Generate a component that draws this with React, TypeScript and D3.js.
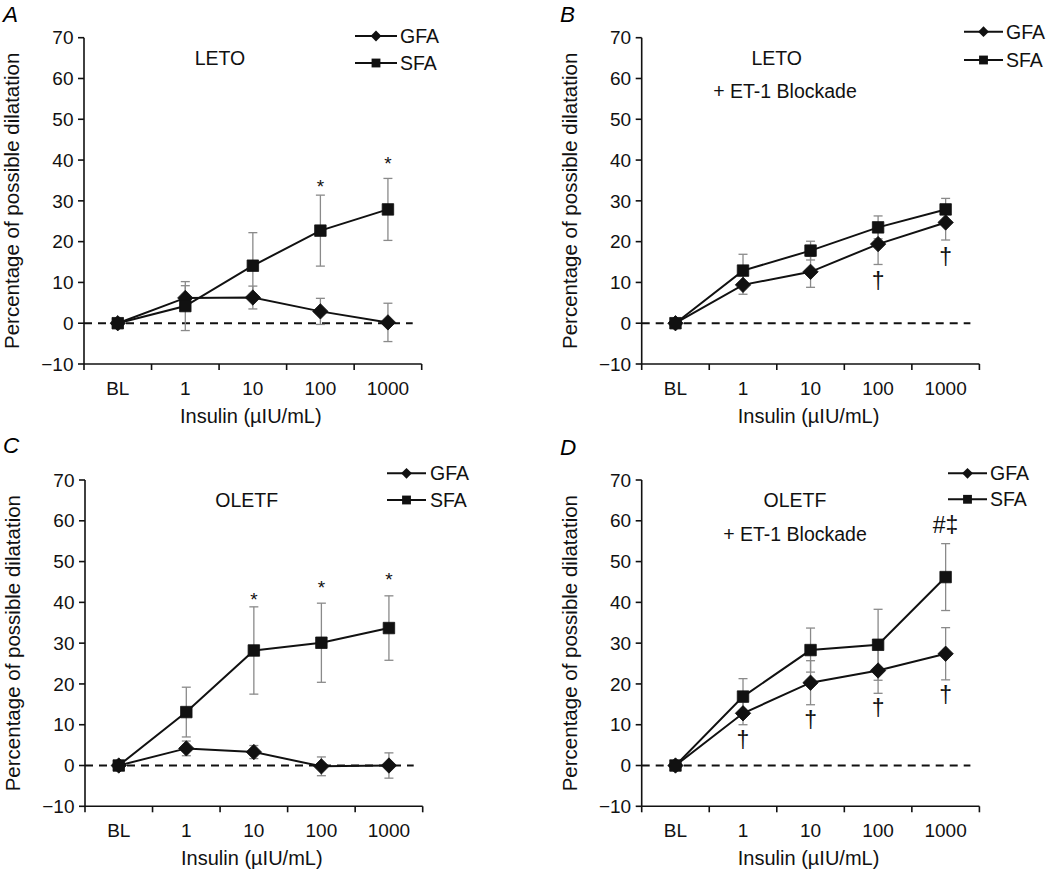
import React from "react";
import * as d3 from "d3";

const categories = ["BL", "1", "10", "100", "1000"];
const yTicks = [-10, 0, 10, 20, 30, 40, 50, 60, 70];
const seriesNames = ["GFA", "SFA"];

// Panel A – LETO
const gfaA = [0, 6.2, 6.3, 2.9, 0.2];
const gfaErrA = [0, 3.0, 2.8, 3.2, 4.7];
const sfaA = [0, 4.2, 14.1, 22.7, 27.9];
const sfaErrA = [0, 6.0, 8.1, 8.7, 7.6];
// Panel B – LETO + ET-1 Blockade
const gfaB = [0, 9.4, 12.6, 19.4, 24.7];
const gfaErrB = [0, 2.3, 3.8, 5.0, 4.3];
const sfaB = [0, 12.9, 17.8, 23.5, 27.9];
const sfaErrB = [0, 4.0, 2.3, 2.8, 2.7];
// Panel C – OLETF
const gfaC = [0, 4.2, 3.3, -0.2, 0];
const gfaErrC = [0, 1.8, 1.6, 2.3, 3.1];
const sfaC = [0, 13.1, 28.2, 30.1, 33.7];
const sfaErrC = [0, 6.1, 10.7, 9.7, 7.9];
// Panel D – OLETF + ET-1 Blockade
const gfaD = [0, 12.8, 20.3, 23.3, 27.4];
const gfaErrD = [0, 2.8, 5.4, 5.6, 6.4];
const sfaD = [0, 16.9, 28.3, 29.6, 46.2];
const sfaErrD = [0, 4.4, 5.4, 8.7, 8.2];

// annotations: category, value (y position in data units), symbol
const notesA = [
  { cat: "100", v: 34.6, t: "*" },
  { cat: "1000", v: 40.3, t: "*" },
];
const notesB = [
  { cat: "100", v: 9.95, t: "†" },
  { cat: "1000", v: 15.8, t: "†" },
];
const notesC = [
  { cat: "10", v: 41.8, t: "*" },
  { cat: "100", v: 44.7, t: "*" },
  { cat: "1000", v: 46.7, t: "*" },
];
const notesD = [
  { cat: "1", v: 5.9, t: "†" },
  { cat: "10", v: 10.8, t: "†" },
  { cat: "100", v: 13.8, t: "†" },
  { cat: "1000", v: 16.9, t: "†" },
  { cat: "1000", v: 58.6, t: "#‡" },
];

const FONT = "'Liberation Sans', Arial, Helvetica, sans-serif";
const PW = 337.7;
const PH = 326.3;

const panels = [
  {
    letter: "A", left: 84, top: 37.7, labelX: 3, labelY: 21.5,
    gfa: gfaA, gfaErr: gfaErrA, sfa: sfaA, sfaErr: sfaErrA, notes: notesA,
    legend: { x1: 355, x2: 397, tx: 400, y1: 36, y2: 63 },
    titles: [{ text: "LETO", dx: 136, v: 65 }],
  },
  {
    letter: "B", left: 641.7, top: 37.7, labelX: 560, labelY: 21.5,
    gfa: gfaB, gfaErr: gfaErrB, sfa: sfaB, sfaErr: sfaErrB, notes: notesB,
    legend: { x1: 964, x2: 1003, tx: 1006, y1: 31.7, y2: 60 },
    titles: [
      { text: "LETO", dx: 135, v: 65 },
      { text: "+ ET-1 Blockade", dx: 143.3, v: 57 },
    ],
  },
  {
    letter: "C", left: 85, top: 480, labelX: 3, labelY: 453,
    gfa: gfaC, gfaErr: gfaErrC, sfa: sfaC, sfaErr: sfaErrC, notes: notesC,
    legend: { x1: 387, x2: 426, tx: 430, y1: 473.3, y2: 500 },
    titles: [{ text: "OLETF", dx: 161.7, v: 65 }],
  },
  {
    letter: "D", left: 641.7, top: 480, labelX: 560, labelY: 455,
    gfa: gfaD, gfaErr: gfaErrD, sfa: sfaD, sfaErr: sfaErrD, notes: notesD,
    legend: { x1: 948, x2: 987, tx: 990, y1: 473.3, y2: 499.3 },
    titles: [
      { text: "OLETF", dx: 153.3, v: 65 },
      { text: "+ ET-1 Blockade", dx: 153.3, v: 56.8 },
    ],
  },
];

const diamondPath = d3.symbol(d3.symbolSquare, 118)() as string;
const squarePath = d3.symbol(d3.symbolSquare, 132)() as string;
const legDiamond = d3.symbol(d3.symbolSquare, 58)() as string;
const legSquare = d3.symbol(d3.symbolSquare, 78)() as string;

function Panel({ p }: { p: any }) {
  const x = d3.scaleBand<string>().domain(categories).range([p.left, p.left + PW]).padding(0);
  const y = d3.scaleLinear().domain([-10, 70]).range([p.top + PH, p.top]);
  const cx = (c: string) => (x(c) as number) + x.bandwidth() / 2;
  const bounds = [...categories.map((c) => x(c) as number), x.range()[1]];
  const line = d3
    .line<number>()
    .x((_, i) => cx(categories[i]))
    .y((d) => y(d));
  const fs = 19;
  const series = [
    { vals: p.gfa, err: p.gfaErr, marker: "diamond" },
    { vals: p.sfa, err: p.sfaErr, marker: "square" },
  ];
  const x0 = p.left;
  const yBottom = y(-10);
  const capW = 4.5;
  return (
    <g>
      {/* panel letter */}
      <text x={p.labelX} y={p.labelY} fontSize={22.5} fontStyle="italic" fontFamily={FONT}>
        {p.letter}
      </text>
      {/* dashed zero line */}
      <line x1={x0} x2={x.range()[1] - 9} y1={y(0)} y2={y(0)} stroke="#111" strokeWidth={2} strokeDasharray="8,6" />
      {/* error bars */}
      {series.map((s, si) =>
        s.vals.map((v: number, i: number) => {
          const e = s.err[i];
          if (!e) return null;
          const xc = cx(categories[i]);
          return (
            <g key={`e${si}-${i}`} stroke="#8a8a8a" strokeWidth={1.3}>
              <line x1={xc} x2={xc} y1={y(v + e)} y2={y(v - e)} />
              <line x1={xc - capW} x2={xc + capW} y1={y(v + e)} y2={y(v + e)} />
              <line x1={xc - capW} x2={xc + capW} y1={y(v - e)} y2={y(v - e)} />
            </g>
          );
        })
      )}
      {/* series lines */}
      {series.map((s, si) => (
        <path key={`l${si}`} d={line(s.vals) as string} fill="none" stroke="#111" strokeWidth={2} />
      ))}
      {/* markers */}
      {series.map((s, si) =>
        s.vals.map((v: number, i: number) => (
          <path
            key={`m${si}-${i}`}
            d={s.marker === "diamond" ? diamondPath : squarePath}
            transform={`translate(${cx(categories[i])},${y(v)})${s.marker === "diamond" ? " rotate(45)" : ""}`}
            fill="#111"
            stroke="#111"
            strokeWidth={0.8}
          />
        ))
      )}
      {/* axes */}
      <line x1={x0} x2={x0} y1={y(70)} y2={yBottom} stroke="#111" strokeWidth={1.6} />
      <line x1={x0} x2={x.range()[1]} y1={yBottom} y2={yBottom} stroke="#111" strokeWidth={1.6} />
      {yTicks.map((t) => (
        <g key={`yt${t}`}>
          <line x1={x0 - 6} x2={x0} y1={y(t)} y2={y(t)} stroke="#111" strokeWidth={1.6} />
          <text x={x0 - 10.5} y={y(t) + 0.35 * fs} fontSize={fs} textAnchor="end" fontFamily={FONT} fill="#111">
            {t < 0 ? `\u2212${Math.abs(t)}` : t}
          </text>
        </g>
      ))}
      {bounds.map((b, i) => (
        <line key={`xt${i}`} x1={b} x2={b} y1={yBottom} y2={yBottom + 6} stroke="#111" strokeWidth={1.6} />
      ))}
      {categories.map((c) => (
        <text key={`xl${c}`} x={cx(c)} y={yBottom + 24 + 0.35 * fs} fontSize={fs} textAnchor="middle" fontFamily={FONT} fill="#111">
          {c}
        </text>
      ))}
      {/* axis titles */}
      <text x={x0 + PW / 2 - 2} y={yBottom + 52 + 0.35 * 20} fontSize={20} textAnchor="middle" fontFamily={FONT} fill="#111">
        Insulin (µIU/mL)
      </text>
      <text
        transform={`translate(${x0 - 72 + 0.35 * 20},${y(30)}) rotate(-90)`}
        fontSize={20.5}
        textAnchor="middle"
        fontFamily={FONT}
        fill="#111"
      >
        Percentage of possible dilatation
      </text>
      {/* in-plot titles */}
      {p.titles.map((t: any, i: number) => (
        <text key={`t${i}`} x={x0 + t.dx} y={y(t.v) + 0.35 * 19.5} fontSize={19.5} textAnchor="middle" fontFamily={FONT} fill="#111">
          {t.text}
        </text>
      ))}
      {/* annotations */}
      {p.notes.map((n: any, i: number) => {
        const isStar = n.t === "*";
        const f = isStar ? 19 : 23;
        const off = isStar ? 0.59 * f : 0.28 * f;
        return (
          <text key={`n${i}`} x={cx(n.cat)} y={y(n.v) + off} fontSize={f} textAnchor="middle" fontFamily={FONT} fill="#111">
            {n.t}
          </text>
        );
      })}
      {/* legend */}
      {seriesNames.map((name, i) => {
        const ly = i === 0 ? p.legend.y1 : p.legend.y2;
        const mx = (p.legend.x1 + p.legend.x2) / 2;
        return (
          <g key={`lg${name}`}>
            <line x1={p.legend.x1} x2={p.legend.x2} y1={ly} y2={ly} stroke="#111" strokeWidth={2} />
            <path
              d={i === 0 ? legDiamond : legSquare}
              transform={`translate(${mx},${ly})${i === 0 ? " rotate(45)" : ""}`}
              fill="#111"
            />
            <text x={p.legend.tx} y={ly + 0.35 * 19.5} fontSize={19.5} fontFamily={FONT} fill="#111">
              {name}
            </text>
          </g>
        );
      })}
    </g>
  );
}

export default function App() {
  return (
    <svg
      width={1050}
      height={870}
      style={{ position: "absolute", left: 0, top: 0, background: "#fff" }}
      xmlns="http://www.w3.org/2000/svg"
    >
      <rect x={0} y={0} width={1050} height={870} fill="#fff" />
      {panels.map((p) => (
        <Panel key={p.letter} p={p} />
      ))}
    </svg>
  );
}
